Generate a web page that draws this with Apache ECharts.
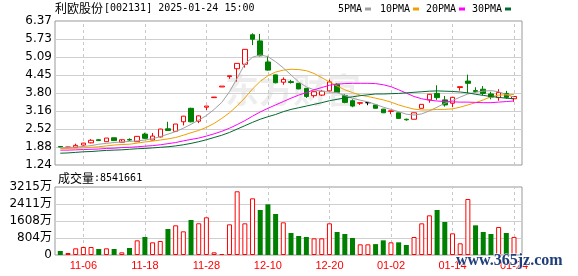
<!DOCTYPE html>
<html><head><meta charset="utf-8">
<script src="https://cdn.jsdelivr.net/npm/echarts@6/dist/echarts.min.js"></script>
<style>html,body{margin:0;padding:0;background:#fff}#c{width:578px;height:276px}</style>
</head><body><div id="c"></div>
<script>
const dates = ['11-01','11-04','11-05','11-06','11-07','11-08','11-11','11-12','11-13','11-14','11-15','11-18','11-19','11-20','11-21','11-22','11-25','11-26','11-27','11-28','11-29',
'12-02','12-03','12-04','12-05','12-06','12-09','12-10','12-11','12-12','12-13','12-16','12-17','12-18','12-19','12-20','12-23','12-24','12-25','12-26','12-27','12-30','12-31',
'01-02','01-03','01-06','01-07','01-08','01-09','01-10','01-13','01-14','01-15','01-16','01-17','01-20','01-21','01-22','01-23','01-24'];
const opens  = [1.90,1.87,1.87,1.95,2.03,2.14,2.07,2.21,2.05,2.15,2.07,2.34,2.13,2.24,2.53,2.44,2.78,3.26,2.80,3.30,3.64,4.02,4.39,4.67,4.83,5.88,5.66,4.91,4.45,4.19,4.21,4.15,3.97,3.71,3.73,3.88,4.12,3.71,3.53,3.44,3.46,3.38,3.23,3.15,3.10,2.87,2.87,3.26,3.56,3.79,3.56,3.44,4.00,4.23,3.89,3.94,3.77,3.64,3.79,3.60];
const highs  = [1.90,1.89,2.00,2.03,2.16,2.16,2.20,2.21,2.08,2.19,2.27,2.39,2.38,2.53,2.78,2.70,2.99,3.28,3.00,3.34,3.66,4.05,4.42,4.87,5.37,5.93,5.91,5.13,4.46,4.36,4.27,4.16,3.98,3.86,3.90,4.28,4.15,3.76,3.58,3.46,3.46,3.38,3.24,3.17,3.10,2.89,3.10,3.40,3.77,4.08,3.70,3.66,4.03,4.46,4.01,4.05,3.85,3.94,3.88,3.68];
const lows   = [1.87,1.86,1.86,1.94,2.01,2.10,2.07,2.11,2.04,2.10,2.06,2.17,2.12,2.22,2.46,2.42,2.65,2.76,2.73,3.20,3.63,4.02,4.31,4.21,4.71,5.51,5.11,4.60,4.15,4.10,4.14,3.94,3.63,3.64,3.70,3.86,3.82,3.44,3.30,3.38,3.37,3.25,3.09,3.05,2.90,2.82,2.87,3.26,3.46,3.56,3.32,3.30,3.89,3.79,3.82,3.73,3.58,3.53,3.60,3.49];
const closes = [1.88,1.88,1.94,2.02,2.12,2.11,2.20,2.11,2.14,2.13,2.26,2.19,2.27,2.52,2.47,2.70,2.98,2.78,2.99,3.34,3.66,4.05,4.42,4.86,5.36,5.72,5.13,4.62,4.17,4.29,4.18,3.95,3.68,3.85,3.87,4.20,3.83,3.47,3.34,3.46,3.46,3.26,3.10,3.17,2.90,2.85,3.10,3.40,3.76,3.64,3.38,3.65,4.03,4.15,3.86,3.79,3.66,3.82,3.65,3.68];
const ma5  = [1.86,1.86,1.88,1.90,1.93,1.98,2.01,2.04,2.06,2.08,2.10,2.13,2.18,2.25,2.34,2.43,2.55,2.69,2.84,3.00,3.22,3.47,3.85,4.33,4.84,5.08,5.16,5.10,4.92,4.70,4.45,4.20,4.02,3.92,3.86,3.84,3.82,3.72,3.62,3.55,3.49,3.40,3.30,3.22,3.14,3.05,3.02,3.06,3.17,3.30,3.44,3.54,3.66,3.77,3.83,3.87,3.89,3.85,3.75,3.66];
const ma10 = [1.83,1.83,1.84,1.85,1.87,1.89,1.92,1.95,1.97,1.98,2.02,2.06,2.09,2.13,2.17,2.22,2.30,2.39,2.47,2.58,2.72,2.90,3.10,3.35,3.63,3.95,4.22,4.42,4.55,4.62,4.65,4.64,4.60,4.50,4.35,4.20,4.05,3.92,3.82,3.73,3.68,3.62,3.56,3.48,3.38,3.30,3.23,3.20,3.20,3.22,3.22,3.24,3.30,3.38,3.46,3.56,3.67,3.73,3.74,3.75];
const ma20 = [1.77,1.77,1.78,1.79,1.80,1.81,1.83,1.84,1.86,1.87,1.89,1.91,1.93,1.96,2.00,2.04,2.10,2.15,2.20,2.27,2.35,2.44,2.55,2.68,2.82,2.98,3.13,3.26,3.38,3.50,3.62,3.73,3.82,3.92,4.00,4.08,4.12,4.14,4.15,4.15,4.15,4.14,4.10,4.03,3.92,3.80,3.68,3.60,3.55,3.52,3.50,3.49,3.48,3.48,3.47,3.46,3.46,3.48,3.50,3.52];
const ma30 = [1.66,1.67,1.69,1.71,1.72,1.74,1.76,1.77,1.78,1.80,1.82,1.83,1.85,1.87,1.89,1.92,1.96,2.01,2.07,2.14,2.22,2.30,2.40,2.52,2.64,2.76,2.87,2.96,3.04,3.14,3.22,3.28,3.34,3.40,3.46,3.53,3.58,3.63,3.67,3.71,3.74,3.77,3.77,3.78,3.79,3.81,3.83,3.85,3.87,3.88,3.87,3.86,3.84,3.81,3.76,3.72,3.68,3.65,3.62,3.60];
const volumes = [189,95,315,378,378,284,315,284,126,331,693,851,599,662,1229,1403,1119,1655,1500,1782,126,47,1450,3012,1497,2679,2128,2395,1938,1544,1040,898,851,788,788,1497,1087,993,804,505,505,515,693,599,599,473,851,1497,1875,2128,1560,1024,552,2648,1403,1087,993,1324,1040,854];
const volUp = [0,1,1,1,1,0,1,0,1,0,1,0,1,1,0,1,1,0,1,1,1,1,1,1,1,1,0,0,0,1,0,0,0,1,1,1,0,0,0,1,1,0,0,1,0,0,1,1,1,0,0,1,1,1,0,0,0,1,0,1];
const priceTicks = ['1.24','1.88','2.52','3.16','3.80','4.45','5.09','5.73','6.37'];
const volTicks = ['0','804万','1608万','2411万','3215万'];
const labelDates = ['11-06','11-18','11-28','12-10','12-20','01-02','01-14','01-24'];
const titleName = '利欧股份';
const titleInfo = '[002131] 2025-01-24 15:00';
const volName = '成交量';
const volInfo = ':8541661';
const maNames = ['5PMA','10PMA','20PMA','30PMA'];
const maColors = ['#a0a0a0','#f0a000','#ff00ff','#006a30'];

const RED = '#ff0000', GREEN = '#008000';
const chart = echarts.init(document.getElementById('c'), null, {renderer: 'canvas'});

const candleData = dates.map((d, i) => {
  const v = [opens[i], closes[i], lows[i], highs[i]];
  if (opens[i] === closes[i]) {
    return {value: v, itemStyle: {color: '#000', color0: '#000', borderColor: '#000', borderColor0: '#000', borderColorDoji: '#000'}};
  }
  return v;
});
const volData = volumes.map((v, i) => ({
  value: v,
  itemStyle: volUp[i] ? {color: '#fff', borderColor: RED, borderWidth: 1} : {color: GREEN, borderColor: GREEN, borderWidth: 0}
}));
const vLines = () => ({
  silent: true, z: 1, symbol: ['none', 'none'], label: {show: false},
  lineStyle: {type: [3, 3], color: '#c8c8c8', width: 1},
  emphasis: {disabled: true},
  data: labelDates.map(d => ({xAxis: d}))
});

const maSeries = [ma5, ma10, ma20, ma30].map((arr, k) => ({
  name: maNames[k], type: 'line', xAxisIndex: 0, yAxisIndex: 0, data: arr, z: 3,
  showSymbol: false, symbol: 'none', lineStyle: {width: 1, color: maColors[k]}, itemStyle: {color: maColors[k]}
}));

const legendGraphics = [];
const legendX = [338, 380, 426, 472];
const markX = [365, 413, 459, 505];
maNames.forEach((n, k) => {
  legendGraphics.push({type: 'text', x: legendX[k], y: 9, style: {text: n, font: '10px "DejaVu Sans Mono"', fill: '#000', verticalAlign: 'middle'}});
  legendGraphics.push({type: 'rect', shape: {x: markX[k], y: 7.5, width: 6, height: 3}, style: {fill: maColors[k]}});
});

chart.setOption({
  animation: false,
  backgroundColor: '#fff',
  grid: [
    {left: 56.45, width: 461.4, top: 21, height: 144},
    {left: 56.45, width: 461.4, top: 187, height: 68},
    {left: 55, right: 56, top: 21, height: 144, show: true, borderColor: '#999', borderWidth: 1, backgroundColor: 'transparent'},
    {left: 55, right: 56, top: 187, height: 68, show: true, borderColor: '#999', borderWidth: 1, backgroundColor: 'transparent'}
  ],
  xAxis: [
    {gridIndex: 0, type: 'category', data: dates, boundaryGap: true, show: false},
    {gridIndex: 1, type: 'category', data: dates, boundaryGap: true,
      axisLine: {show: false}, axisTick: {show: false}, splitLine: {show: false},
      axisLabel: {show: true, interval: (i, v) => labelDates.includes(v), color: RED, fontSize: 11, fontFamily: 'Liberation Sans', margin: 5}},
    {gridIndex: 2, type: 'value', min: 0, max: 1, show: false},
    {gridIndex: 3, type: 'value', min: 0, max: 1, show: false}
  ],
  yAxis: [
    {gridIndex: 0, type: 'value', min: 1.24, max: 6.37, show: false},
    {gridIndex: 1, type: 'value', min: 0, max: 3215, show: false},
    {gridIndex: 2, type: 'value', min: 0, max: 8, interval: 1,
      axisLine: {show: false}, axisTick: {show: false},
      splitLine: {show: true, showMinLine: false, showMaxLine: false, lineStyle: {color: '#cfcfcf', width: 1}},
      axisLabel: {formatter: v => priceTicks[Math.round(v)], color: '#000', fontSize: 12, fontFamily: 'DejaVu Sans', margin: 3}},
    {gridIndex: 3, type: 'value', min: 0, max: 4, interval: 1,
      axisLine: {show: false}, axisTick: {show: false},
      splitLine: {show: true, showMinLine: false, showMaxLine: false, lineStyle: {color: '#cfcfcf', width: 1}},
      axisLabel: {formatter: v => volTicks[Math.round(v)], color: '#000', fontSize: 12, fontFamily: '"DejaVu Sans","Noto Sans CJK SC"', margin: 3}}
  ],
  graphic: [
    {type: 'text', x: 225, y: 90, z: -10, silent: true, style: {text: '东方财富', font: 'bold 34px "Noto Sans CJK SC"', fill: 'rgba(0,0,0,0.07)', verticalAlign: 'middle'}},
    {type: 'text', x: 55, y: 8, style: {text: titleName, font: '12px "Noto Sans CJK SC"', fill: '#000', verticalAlign: 'middle'}},
    {type: 'text', x: 104, y: 8, style: {text: titleInfo, font: '10px "DejaVu Sans Mono"', fill: '#000', verticalAlign: 'middle'}},
    {type: 'text', x: 58, y: 178, style: {text: volName, font: '12px "Noto Sans CJK SC"', fill: '#000', verticalAlign: 'middle'}},
    {type: 'text', x: 94, y: 178, style: {text: volInfo, font: '10px "DejaVu Sans Mono"', fill: '#000', verticalAlign: 'middle'}},
    ...legendGraphics,
    {type: 'text', x: 456, y: 261, z: 100, style: {text: 'www.365jz.com', font: 'bold 16px "Liberation Serif"', fill: '#1f3f7a', verticalAlign: 'middle', stroke: '#fff', lineWidth: 1}}
  ],
  series: [
    {type: 'line', name: 'gridK', xAxisIndex: 0, yAxisIndex: 0, data: [], z: 1, silent: true, markLine: vLines()},
    {type: 'line', name: 'gridV', xAxisIndex: 1, yAxisIndex: 1, data: [], z: 1, silent: true, markLine: vLines()},
    {type: 'candlestick', name: 'K', xAxisIndex: 0, yAxisIndex: 0, data: candleData, barWidth: 5, z: 2,
      itemStyle: {color: '#fff', color0: GREEN, borderColor: RED, borderColor0: GREEN, borderColorDoji: '#000', borderWidth: 1}},
    ...maSeries,
    {type: 'bar', name: 'VOL', xAxisIndex: 1, yAxisIndex: 1, data: volData, barWidth: 5, z: 2}
  ]
});
</script></body></html>
